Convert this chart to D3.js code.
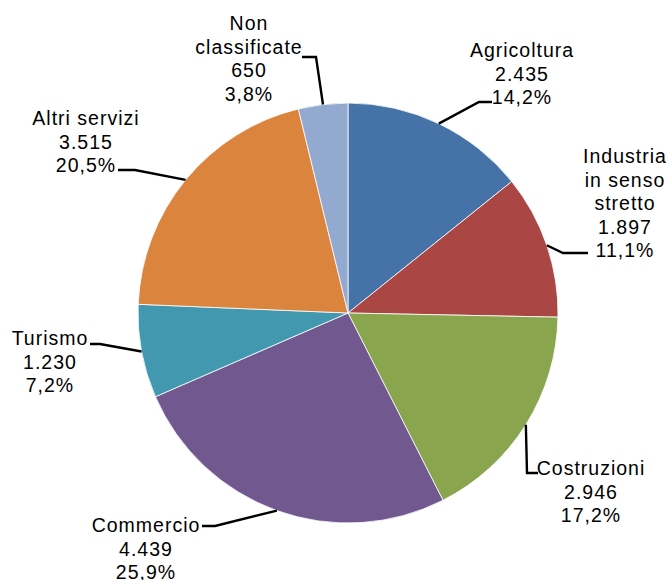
<!DOCTYPE html>
<html><head><meta charset="utf-8">
<script src="https://cdn.jsdelivr.net/npm/d3@7"></script>
<style>
html,body{margin:0;padding:0;background:#fff;}
svg{display:block;}
text{font-family:"Liberation Sans",Arial,sans-serif;font-size:19.5px;fill:#000;letter-spacing:1px;}
</style></head><body>
<svg id="chart" width="667" height="580"></svg>
<script>
// Data
const categories = ["Agricoltura", "Industria\nin senso\nstretto", "Costruzioni", "Commercio", "Turismo", "Altri servizi", "Non\nclassificate"];
const values = [2435, 1897, 2946, 4439, 1230, 3515, 650];
const colors = ["#4572A7", "#AA4643", "#89A54E", "#71588F", "#4198AF", "#DB843D", "#93A9CF"];

// Layout of labels (text centre x, first baseline y, leader elbow points)
const labelLayout = [
  {x: 522, y: 57,  leader: [[492, 102], [479, 102]]},
  {x: 625, y: 163, leader: [[588, 253], [563, 253]]},
  {x: 591, y: 475, leader: [[538, 473], [527, 473]]},
  {x: 146, y: 532, leader: [[202, 526], [215, 526]]},
  {x: 50,  y: 345, leader: [[90, 344], [100, 344]]},
  {x: 86,  y: 125, leader: [[118, 170], [135, 170]]},
  {x: 249, y: 30,  leader: [[302, 57], [316, 57]]}
];
const lineHeight = 23.5;

const loc = d3.formatLocale({decimal: ",", thousands: ".", grouping: [3], currency: ["", "€"]});
const fmtNum = loc.format(",d");
const fmtPct = loc.format(".1%");

const svg = d3.select("#chart");
const cx = 348, cy = 313, R = 210;
const total = d3.sum(values);

const data = categories.map((c, i) => ({name: c, value: values[i], color: colors[i], layout: labelLayout[i]}));
const pie = d3.pie().value(d => d.value).sort(null).startAngle(0).endAngle(2 * Math.PI);
const arcs = pie(data);
const arc = d3.arc().innerRadius(0).outerRadius(R);

const g = svg.append("g").attr("transform", `translate(${cx},${cy})`);
g.selectAll("path.slice").data(arcs).join("path")
  .attr("class", "slice")
  .attr("d", arc)
  .attr("fill", d => d.data.color)
  .attr("stroke", "#fff")
  .attr("stroke-width", 0.8);

// Leader lines
const lineGen = d3.line();
arcs.forEach(a => {
  const mid = (a.startAngle + a.endAngle) / 2;
  const edge = [cx + R * Math.sin(mid), cy - R * Math.cos(mid)];
  const pts = a.data.layout.leader.concat([edge]);
  svg.append("path")
    .attr("d", lineGen(pts))
    .attr("fill", "none")
    .attr("stroke", "#000")
    .attr("stroke-width", 2.4);
});

// Labels
arcs.forEach(a => {
  const L = a.data.layout;
  const lines = a.data.name.split("\n").concat([fmtNum(a.data.value), fmtPct(a.data.value / total)]);
  const t = svg.append("text").attr("text-anchor", "middle");
  lines.forEach((ln, k) => {
    t.append("tspan").attr("x", L.x).attr("y", L.y + k * lineHeight).text(ln);
  });
});
</script>
</body></html>
